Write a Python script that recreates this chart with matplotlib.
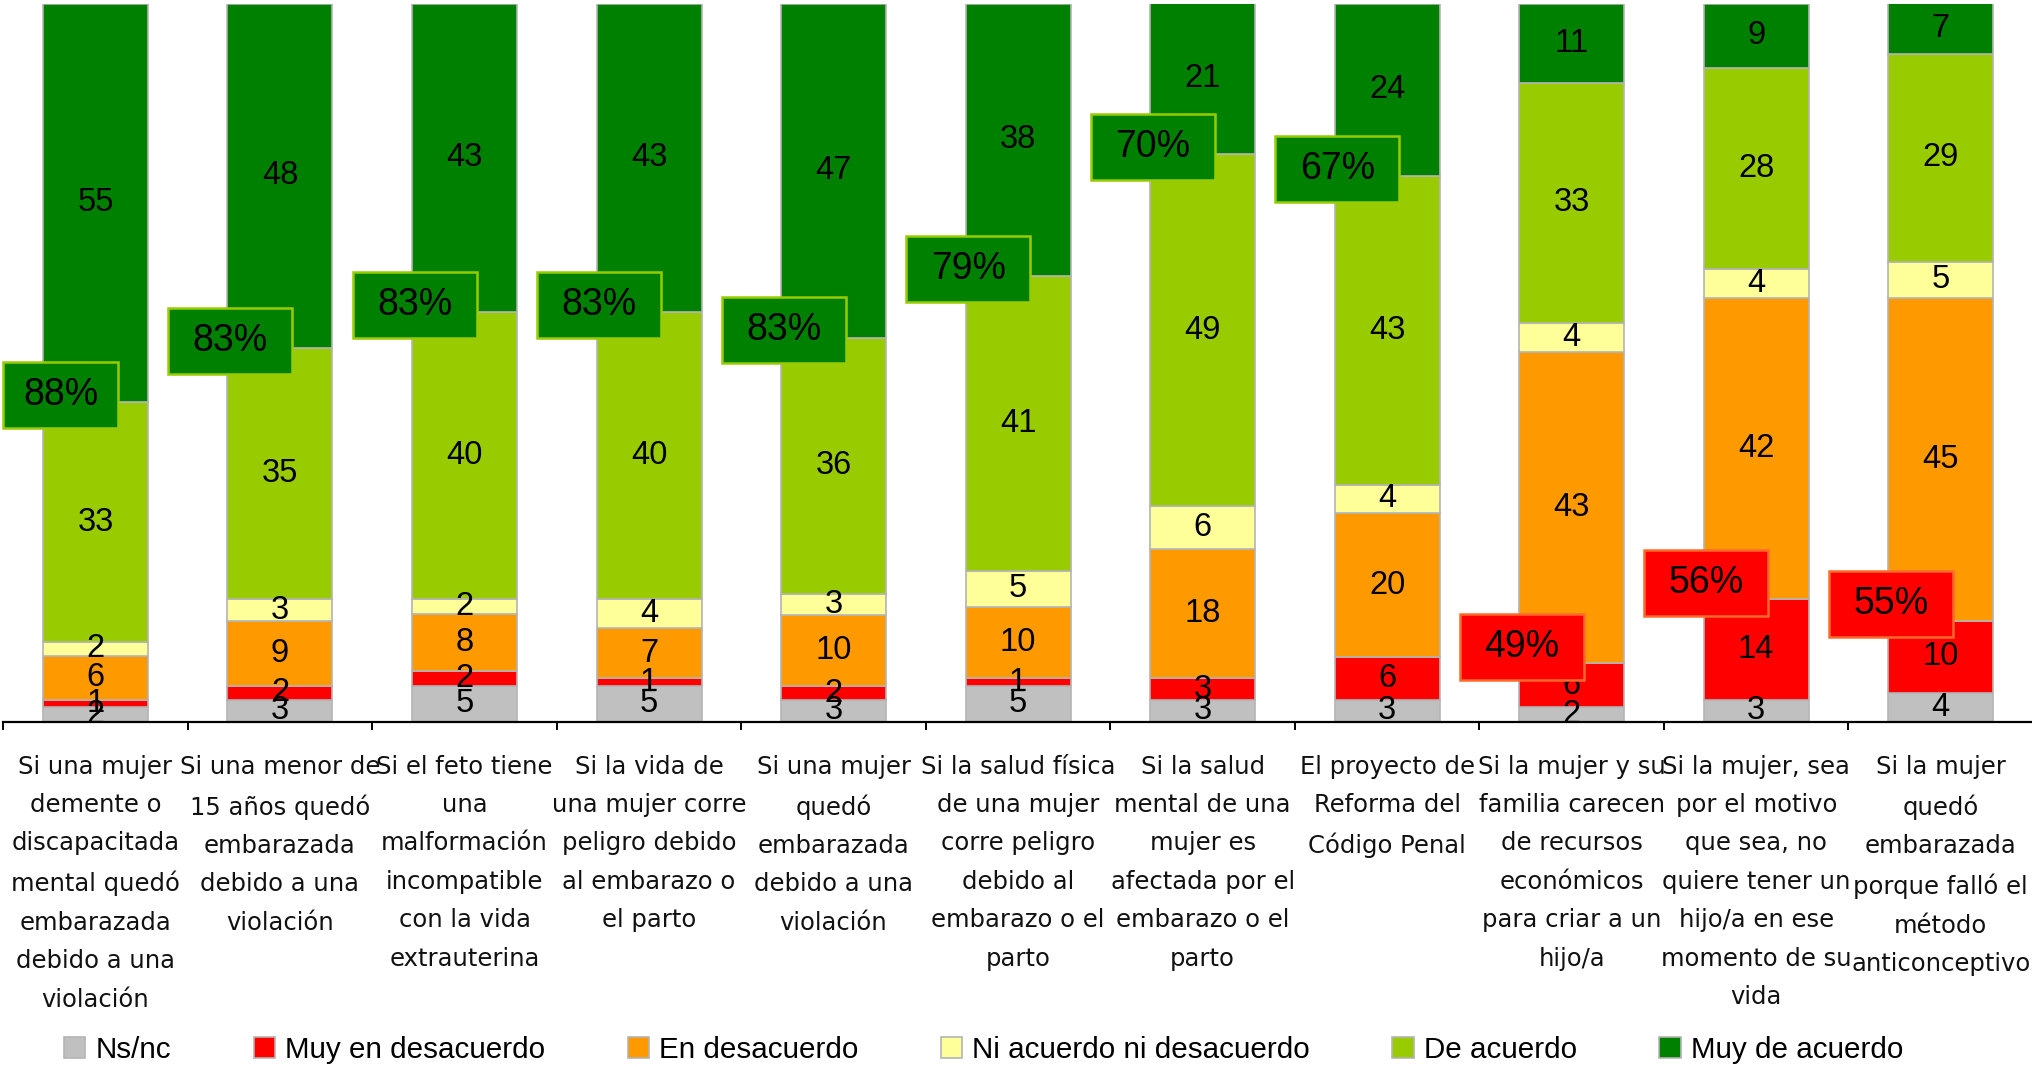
import numpy as np
import matplotlib
matplotlib.use("Agg")
import matplotlib.pyplot as plt
from matplotlib.patches import Rectangle

categories = [
    "Si una mujer\ndemente o\ndiscapacitada\nmental quedó\nembarazada\ndebido a una\nviolación",
    "Si una menor de\n15 años quedó\nembarazada\ndebido a una\nviolación",
    "Si el feto tiene\nuna\nmalformación\nincompatible\ncon la vida\nextrauterina",
    "Si la vida de\nuna mujer corre\npeligro debido\nal embarazo o\nel parto",
    "Si una mujer\nquedó\nembarazada\ndebido a una\nviolación",
    "Si la salud física\nde una mujer\ncorre peligro\ndebido al\nembarazo o el\nparto",
    "Si la salud\nmental de una\nmujer es\nafectada por el\nembarazo o el\nparto",
    "El proyecto de\nReforma del\nCódigo Penal",
    "Si la mujer y su\nfamilia carecen\nde recursos\neconómicos\npara criar a un\nhijo/a",
    "Si la mujer, sea\npor el motivo\nque sea, no\nquiere tener un\nhijo/a en ese\nmomento de su\nvida",
    "Si la mujer\nquedó\nembarazada\nporque falló el\nmétodo\nanticonceptivo",
]

series_names = ["Ns/nc", "Muy en desacuerdo", "En desacuerdo",
                "Ni acuerdo ni desacuerdo", "De acuerdo", "Muy de acuerdo"]

ns_nc            = [2, 3, 5, 5, 3, 5, 3, 3, 2, 3, 4]
muy_desacuerdo   = [1, 2, 2, 1, 2, 1, 3, 6, 6, 14, 10]
en_desacuerdo    = [6, 9, 8, 7, 10, 10, 18, 20, 43, 42, 45]
ni_ni            = [2, 3, 2, 4, 3, 5, 6, 4, 4, 4, 5]
de_acuerdo       = [33, 35, 40, 40, 36, 41, 49, 43, 33, 28, 29]
muy_de_acuerdo   = [55, 48, 43, 43, 47, 38, 21, 24, 11, 9, 7]

colors = ["#C0C0C0", "#FF0000", "#FF9900", "#FFFF99", "#99CC00", "#008000"]

data = np.array([ns_nc, muy_desacuerdo, en_desacuerdo, ni_ni, de_acuerdo, muy_de_acuerdo], dtype=float)
totals = data.sum(axis=0)
norm = data / totals * 100.0

W, H = 2033, 1067
fig = plt.figure(figsize=(W / 100, H / 100), dpi=100)
ax = fig.add_axes([3.2 / W, (H - 721.5) / H, (W - 3.2) / W, (721.5 - 3.5) / H])

x = np.arange(len(categories))
bw = 0.569
bottom = np.zeros(len(categories))
num_font = "Liberation Sans"
for k in range(6):
    ax.bar(x, norm[k], bw, bottom=bottom, color=colors[k], edgecolor="#B4B4B4",
           linewidth=1.2, zorder=2)
    for i in range(len(categories)):
        ax.text(x[i], bottom[i] + norm[k, i] / 2, f"{int(data[k, i])}",
                ha="center", va="center", fontsize=23.5, family=num_font,
                color="black", zorder=3)
    bottom += norm[k]

# summary boxes
box_w = 124 / 184.55
box_h = 66 / 7.18
for i in range(len(categories)):
    agree = data[4, i] + data[5, i]
    disagree = data[1, i] + data[2, i]
    if agree >= disagree:
        anchor = norm[:5, i].sum()
        val = agree
        fc, ec = "#008000", "#99CC00"
        cy = anchor + 1.0
    else:
        anchor = norm[:2, i].sum()
        val = disagree
        fc, ec = "#FF0000", "#FF6A2A"
        cy = anchor + 2.3
    cx = x[i] - bw / 2 + 0.015
    left = max(cx - box_w / 2, -0.499)
    right = max(cx + box_w / 2, left + 0.62)
    ax.add_patch(Rectangle((left, cy - box_h / 2), right - left, box_h, facecolor=fc,
                           edgecolor=ec, linewidth=1.8, zorder=5, clip_on=False))
    ax.text((left + right) / 2, cy, f"{int(val)}%", ha="center", va="center",
            fontsize=27, family=num_font, color="black", zorder=6)

ax.set_xlim(-0.5, len(categories) - 0.5)
ax.set_ylim(0, 100)
for s in ["top", "right", "left"]:
    ax.spines[s].set_visible(False)
ax.spines["bottom"].set_linewidth(1.6)
ax.set_yticks([])
ax.set_xticks(np.arange(-0.5, len(categories) + 0.5, 1.0))
ax.set_xticklabels([])
ax.tick_params(axis="x", direction="out", length=6, width=1.4, color="black")

for i, lab in enumerate(categories):
    ax.text(x[i], -0.046, lab, transform=ax.get_xaxis_transform(), ha="center",
            va="top", fontsize=17.5, family="DejaVu Sans", linespacing=1.76,
            color="#111111")

handles = [Rectangle((0, 0), 1, 1, facecolor=c, edgecolor="#B4B4B4", linewidth=1.2)
           for c in colors]
fig.legend(handles, series_names, loc="center left",
           bbox_to_anchor=(64 / W, 17 / H), ncol=6, frameon=False,
           prop={"family": num_font, "size": 21.3}, handlelength=0.72,
           handleheight=0.72, handletextpad=0.35, columnspacing=2.78,
           borderpad=0, borderaxespad=0)

fig.savefig("out.png", dpi=100)
